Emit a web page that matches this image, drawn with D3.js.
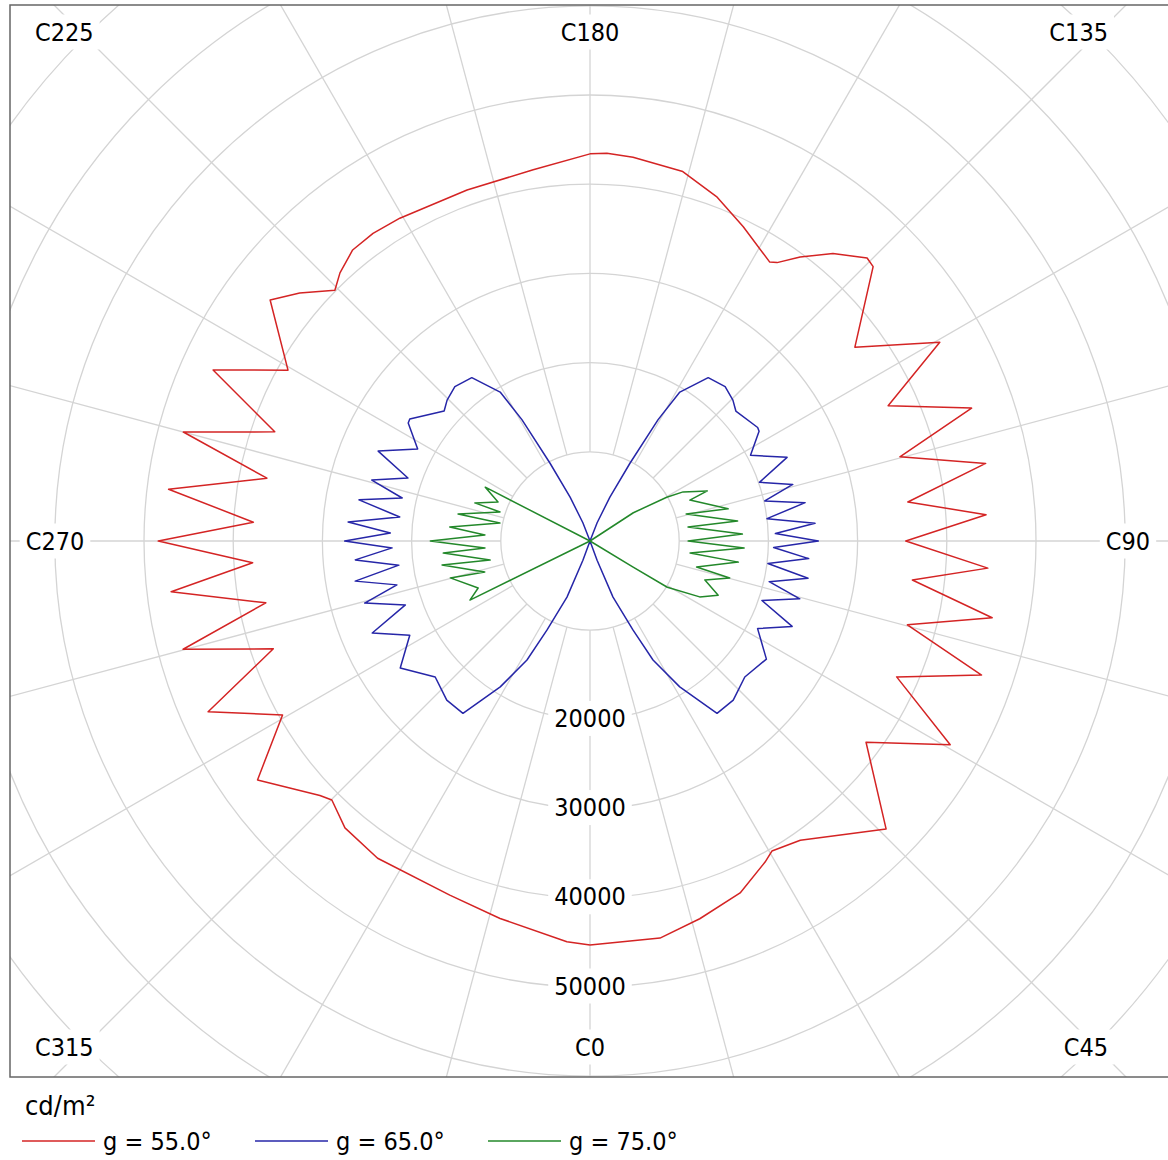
<!DOCTYPE html>
<html>
<head>
<meta charset="utf-8">
<script src="https://cdnjs.cloudflare.com/ajax/libs/d3/7.8.5/d3.min.js"></script>
<style>
  body { margin: 0; background: #fff; }
  text { font-family: "DejaVu Sans Condensed", "DejaVu Sans", sans-serif; fill: #000; }
</style>
</head>
<body>
<div id="chart"></div>
<script>
// C-plane labels and radial ticks
var cLabels = [0, 45, 90, 135, 180, 225, 270, 315];
var ringValues = [10000, 20000, 30000, 40000, 50000, 60000, 70000, 80000, 90000, 100000];
var ringLabels = [20000, 30000, 40000, 50000];
var seriesNames = ["g = 55.0°", "g = 65.0°", "g = 75.0°"];

// g = 55.0 deg : C angle (deg) / luminance (cd/m2)
var c55 = [0, 10.0, 16.2, 23.1, 28.6, 30.4, 35.1, 41.6, 45.8, 53.9, 60.5, 66.1, 71.1, 75.2, 79.2, 83.1, 86.1, 90,
  93.8, 97.0, 101.1, 105.2, 109.2, 114.4, 119.6, 126.2, 134.1, 135.6, 139.8, 143.5, 146.1, 147.2, 154.0, 159.7,
  165.9, 173.6, 177.5, 180, 188.7, 199.3, 210.5, 215.2, 219.2, 223.0, 225.5, 229.5, 233.0, 240.5, 245.6, 250.9,
  255.0, 259.0, 263.0, 266.8, 270, 273.7, 276.9, 280.8, 284.9, 288.8, 294.1, 299.5, 305.7, 313.3, 315.1, 319.5,
  326.2, 338.4, 346.6, 356.7, 360];
var l55 = [45300, 45200, 44100, 42900, 41000, 40300, 41000, 43900, 46300, 38300, 46400, 37600, 46400, 36800, 45900,
  36400, 44700, 35400, 44500, 35900, 45200, 36000, 45300, 36700, 45100, 36800, 44200, 44400, 42200, 39600, 37600,
  37200, 39200, 41100, 42700, 43300, 43500, 43400, 42100, 41700, 42000, 42200, 42100, 41100, 40100, 42800, 44900,
  38900, 46400, 37400, 47200, 36900, 47600, 37800, 48400, 37900, 47300, 37000, 47200, 37500, 46900, 39600, 45900,
  41600, 41000, 42300, 42800, 42700, 43500, 45000, 45300];

// g = 65.0 deg
var c65 = [0, 20.2, 22.3, 25.8, 27.9, 31.6, 36.4, 42.0, 48.7, 56.2, 62.4, 67.1, 70.9, 74.6, 77.2, 80.3, 82.8, 85.4,
  88.0, 90, 92.3, 94.5, 97.2, 100.1, 102.9, 105.6, 109.1, 113.0, 118.1, 123.0, 124.1, 131.7, 134.6, 138.8, 144.1,
  148.9, 150.7, 152.8, 155.6, 158.7, 180,
  201.3, 204.4, 207.2, 209.3, 211.1, 215.9, 221.2, 225.4, 228.3, 235.9, 237.0, 241.9, 247.0, 250.9, 254.4, 257.1,
  259.9, 262.8, 265.5, 267.7, 270, 272.0, 274.6, 277.2, 279.7, 282.8, 285.4, 289.1, 292.9, 297.6, 303.8, 311.3,
  318.0, 323.6, 328.4, 332.1, 334.2, 337.7, 339.8, 360];
var l65 = [0, 2300, 6800, 11100, 15100, 19200, 24000, 24000, 23100, 23800, 21200, 24600, 20400, 24400, 20600, 24800,
  20100, 24600, 20600, 25600, 20800, 25300, 20000, 24500, 20100, 23600, 20100, 24000, 20400, 22600, 22700, 21900,
  22500, 23000, 22600, 19500, 15600, 9800, 5400, 2200, 0,
  2200, 5400, 9800, 15600, 19500, 22600, 23000, 22500, 21900, 24400, 24300, 21900, 25800, 21600, 25400, 21600,
  26300, 21500, 27200, 22400, 27500, 22200, 26400, 21600, 26700, 22200, 26200, 21900, 26500, 22800, 25600, 23100,
  24000, 24000, 19200, 15100, 11100, 6800, 2300, 0];

// g = 75.0 deg
var c75 = [0, 58.8, 59.1, 63.0, 67.1, 71.3, 75.2, 76.3, 81.9, 83.2, 87.4, 90, 92.6, 98.1, 97.7, 105.7, 103.1, 112.3,
  113.1, 117.8, 119.7, 123.1, 180,
  242.8, 247.0, 251.7, 252.1, 258.4, 258.7, 264.3, 266.7, 270, 273.8, 274.7, 280.8, 279.2, 286.4, 284.8, 292.8,
  296.2, 360];
var l75 = [0, 5600, 10100, 13800, 15600, 13600, 16200, 12300, 16800, 11300, 17300, 11000, 17100, 11100, 16700,
  11200, 15900, 12100, 14300, 11800, 9900, 5800, 0,
  13200, 11200, 13600, 10600, 15100, 10300, 15800, 11800, 17900, 11800, 16500, 11400, 16800, 12300, 16200, 13600,
  15000, 0];

var series = [
  { name: seriesNames[0], c: c55, l: l55, color: "#d42424" },
  { name: seriesNames[1], c: c65, l: l65, color: "#2626a8" },
  { name: seriesNames[2], c: c75, l: l75, color: "#23882a" }
];

var W = 1168, H = 1160;
var frame = { x0: 10, y0: 5, x1: 1170, y1: 1077 };
var cx = (frame.x0 + frame.x1) / 2, cy = (frame.y0 + frame.y1) / 2;
var grid = "#d4d4d4";
var rad = Math.PI / 180;

var r = d3.scaleLinear().domain([0, 10000]).range([0, 89.2]);

var svg = d3.select("#chart").append("svg")
  .attr("width", W).attr("height", H);

svg.append("defs").append("clipPath").attr("id", "plotClip")
  .append("rect")
  .attr("x", frame.x0).attr("y", frame.y0)
  .attr("width", frame.x1 - frame.x0).attr("height", frame.y1 - frame.y0);

var plot = svg.append("g").attr("clip-path", "url(#plotClip)");
var g = plot.append("g").attr("transform", "translate(" + cx + "," + cy + ")");

// rings
g.selectAll("circle.ring").data(ringValues).enter().append("circle")
  .attr("class", "ring")
  .attr("r", function (d) { return r(d); })
  .attr("fill", "none").attr("stroke", grid).attr("stroke-width", 1.3);

// spokes every 15 deg, starting at the first ring
var spokes = d3.range(0, 360, 15);
g.selectAll("line.spoke").data(spokes).enter().append("line")
  .attr("class", "spoke")
  .attr("x1", function (d) { return r(10000) * Math.sin(d * rad); })
  .attr("y1", function (d) { return r(10000) * Math.cos(d * rad); })
  .attr("x2", function (d) { return r(100000) * Math.sin(d * rad); })
  .attr("y2", function (d) { return r(100000) * Math.cos(d * rad); })
  .attr("stroke", grid).attr("stroke-width", 1.3);

// label with white box behind it
function boxedLabel(parent, x, y, txt, anchor, size) {
  var t = parent.append("text")
    .attr("x", x).attr("y", y)
    .attr("text-anchor", anchor)
    .attr("dominant-baseline", "central")
    .style("font-size", size + "px")
    .text(txt);
  var b = t.node().getBBox();
  parent.insert("rect", function () { return t.node(); })
    .attr("x", b.x - 6).attr("y", b.y - 3)
    .attr("width", b.width + 12).attr("height", b.height + 6)
    .attr("fill", "#fff");
}

// radial value labels along C0
ringLabels.forEach(function (v) {
  boxedLabel(g, 0, r(v) - 1, String(v), "middle", 25);
});

// C-plane labels
var inset = { left: frame.x0 + 45, right: frame.x1 - 42, top: frame.y0 + 27, bottom: frame.y1 - 30 };
cLabels.forEach(function (c) {
  var s = Math.round(Math.sin(c * rad)), k = Math.round(Math.cos(c * rad));
  var x, y, anchor = "middle";
  y = k < 0 ? inset.top : (k > 0 ? inset.bottom : cy);
  if (s === 0) { x = cx; }
  else if (k === 0) { x = s > 0 ? inset.right : inset.left; }
  else if (s < 0) { x = frame.x0 + 25; anchor = "start"; }
  else { x = frame.x1 - 62; anchor = "end"; }
  boxedLabel(plot, x, y, "C" + c, anchor, 25);
});

// curves
var line = d3.lineRadial()
  .angle(function (d) { return (180 - d.c) * rad; })
  .radius(function (d) { return r(d.l); });

series.forEach(function (s) {
  var pts = s.c.map(function (c, i) { return { c: c, l: s.l[i] }; });
  g.append("path")
    .datum(pts)
    .attr("d", line)
    .attr("fill", "none")
    .attr("stroke", s.color)
    .attr("stroke-width", 1.5)
    .attr("stroke-linejoin", "round");
});

// frame
svg.append("rect")
  .attr("x", frame.x0).attr("y", frame.y0)
  .attr("width", frame.x1 - frame.x0).attr("height", frame.y1 - frame.y0)
  .attr("fill", "none").attr("stroke", "#666").attr("stroke-width", 1.5);

// legend
svg.append("text")
  .attr("x", 25).attr("y", 1115)
  .style("font-size", "27px")
  .text("cd/m²");

var legend = svg.selectAll("g.leg").data(series).enter().append("g")
  .attr("class", "leg")
  .attr("transform", function (d, i) { return "translate(" + (22 + i * 233) + ",1141)"; });
legend.append("line")
  .attr("x1", 0).attr("x2", 73).attr("y1", 0).attr("y2", 0)
  .attr("stroke", function (d) { return d.color; }).attr("stroke-width", 1.5);
legend.append("text")
  .attr("x", 81).attr("y", 9)
  .style("font-size", "25px")
  .text(function (d) { return d.name; });
</script>
</body>
</html>
